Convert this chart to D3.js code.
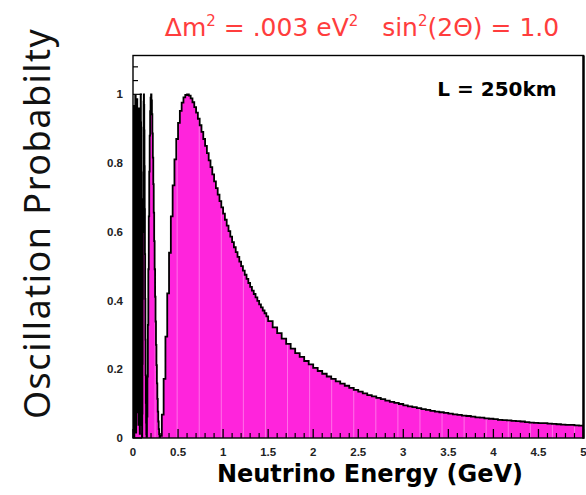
<!DOCTYPE html>
<html>
<head>
<meta charset="utf-8">
<script src="https://cdn.jsdelivr.net/npm/d3@7"></script>
<style>
  html, body { margin: 0; padding: 0; background: #fff; }
  svg { display: block; }
</style>
</head>
<body>
<svg id="chart" width="586" height="495"></svg>
<script>
// Oscillation probability vs neutrino energy, stored as a histogram in four binning zones.
const vlowStart = 0, vlowWidth = 0.0025;
const vlowProb = [
  0.068, 0.821, 0.870, 0.966, 0.135, 0.001, 0.887, 0.153, 0.437, 0.556,
  0.996, 0.997, 0.722, 0.016, 0.773, 0.334, 0.743, 0.075, 0.986, 0.354,
  0.094, 0.851, 0.856, 0.199, 0.038, 0.521, 0.959, 0.901, 0.481, 0.096,
  0.012, 0.232, 0.588, 0.884, 1.000, 0.918, 0.695, 0.424, 0.185, 0.038,
  0.002, 0.071, 0.216, 0.405, 0.599, 0.773, 0.903, 0.979, 1.000, 0.969,
  0.895, 0.791, 0.666, 0.535, 0.405, 0.286, 0.183, 0.102, 0.045, 0.011
];
const lowStart = 0.15, lowWidth = 0.005;
const lowProb = [
  0.003, 0.062, 0.179, 0.329, 0.491, 0.645, 0.775, 0.880, 0.951, 0.990,
  1.000, 0.982, 0.942, 0.886, 0.816, 0.739, 0.656, 0.573, 0.491, 0.411,
  0.339, 0.271, 0.212, 0.159, 0.114, 0.077, 0.048, 0.026, 0.011, 0.003
];
const midStart = 0.3, midWidth = 0.02;
const midProb = [
  0.006, 0.068, 0.172, 0.295, 0.421, 0.539, 0.645, 0.735, 0.811, 0.870,
  0.917, 0.952, 0.976, 0.991, 0.998, 1.000, 0.996, 0.988, 0.977, 0.963,
  0.947, 0.929, 0.910, 0.891, 0.870, 0.850, 0.829, 0.808, 0.788, 0.767,
  0.747, 0.727, 0.708, 0.689, 0.671, 0.653, 0.635, 0.618, 0.602, 0.586,
  0.570, 0.555, 0.541, 0.527, 0.513, 0.500, 0.487, 0.475, 0.463, 0.451,
  0.440, 0.429, 0.419, 0.409, 0.399, 0.389, 0.380, 0.371, 0.363, 0.354
];
const highStart = 1.5, highWidth = 0.05;
const highProb = [
  0.340, 0.322, 0.305, 0.289, 0.274, 0.260, 0.247, 0.236, 0.224, 0.214,
  0.204, 0.195, 0.187, 0.179, 0.172, 0.165, 0.158, 0.152, 0.146, 0.140,
  0.135, 0.130, 0.125, 0.121, 0.117, 0.113, 0.109, 0.105, 0.102, 0.099,
  0.095, 0.092, 0.090, 0.087, 0.084, 0.082, 0.079, 0.077, 0.075, 0.073,
  0.071, 0.069, 0.067, 0.065, 0.064, 0.062, 0.060, 0.059, 0.057, 0.056,
  0.055, 0.053, 0.052, 0.051, 0.050, 0.049, 0.048, 0.046, 0.045, 0.044,
  0.043, 0.043, 0.042, 0.041, 0.040, 0.039, 0.038, 0.038, 0.037, 0.036
];

const xTickValues = [0, 0.5, 1, 1.5, 2, 2.5, 3, 3.5, 4, 4.5, 5];
const xTickLabels = ["0", "0.5", "1", "1.5", "2", "2.5", "3", "3.5", "4", "4.5", "5"];
const yTickValues = [0, 0.2, 0.4, 0.6, 0.8, 1];
const yTickLabels = ["0", "0.2", "0.4", "0.6", "0.8", "1"];

const titleParts = [
  { t: "\u0394m", sup: false }, { t: "2", sup: true }, { t: " = .003 eV", sup: false },
  { t: "2", sup: true }, { t: "\u00a0\u00a0\u00a0sin", sup: false }, { t: "2", sup: true },
  { t: "(2\u0398) = 1.0", sup: false }
];
const xTitle = "Neutrino Energy (GeV)";
const yTitle = "Oscillation Probabilty";
const baselineNote = "L = 250km";

// Assemble bins from each zone
const bins = [];
function addZone(start, width, probs) {
  probs.forEach((p, i) => bins.push({ x0: start + i * width, x1: start + (i + 1) * width, p }));
}
addZone(vlowStart, vlowWidth, vlowProb);
addZone(lowStart, lowWidth, lowProb);
addZone(midStart, midWidth, midProb);
addZone(highStart, highWidth, highProb);

const frameL = 133, frameR = 583.5, frameT = 55.5, frameB = 438;
const x = d3.scaleLinear().domain([0, 5]).range([frameL, frameR]);
const y = d3.scaleLinear().domain([0, 1.113]).range([frameB, frameT]);

const svg = d3.select("#chart");
const magenta = "#ff24dc";

const defs = svg.append("defs");
defs.append("clipPath").attr("id", "plotClip")
  .append("rect").attr("x", frameL).attr("y", frameT).attr("width", frameR - frameL).attr("height", frameB - frameT);

// Step points of the histogram
const stepPts = [[0, 0]];
bins.forEach(b => stepPts.push([b.x0, b.p]));
stepPts.push([bins[bins.length - 1].x1, bins[bins.length - 1].p]);
stepPts.push([bins[bins.length - 1].x1, 0]);

const area = d3.area().curve(d3.curveStepAfter)
  .x(d => x(d[0])).y0(y(0)).y1(d => y(d[1]));
const line = d3.line().curve(d3.curveStepAfter)
  .x(d => x(d[0])).y(d => y(d[1]));

const plot = svg.append("g").attr("clip-path", "url(#plotClip)");

// Fill clip for faint bin-boundary stripes
defs.append("clipPath").attr("id", "fillClip")
  .append("path").attr("d", area(stepPts));

plot.append("path").attr("d", area(stepPts)).attr("fill", magenta).attr("stroke", "none");

const stripes = d3.range(0.245, 5, 0.245);
plot.append("g").attr("clip-path", "url(#fillClip)")
  .selectAll("line").data(stripes).join("line")
  .attr("x1", d => x(d)).attr("x2", d => x(d))
  .attr("y1", y(0)).attr("y2", frameT)
  .attr("stroke", "#ffffff").attr("stroke-opacity", 0.35).attr("stroke-width", 1);

plot.append("path").attr("d", line(stepPts))
  .attr("fill", "none").attr("stroke", "#000").attr("stroke-width", 1.8)
  .attr("stroke-linejoin", "miter");

// Frame
svg.append("rect").attr("x", frameL).attr("y", frameT).attr("width", frameR - frameL).attr("height", frameB - frameT)
  .attr("fill", "none").attr("stroke", "#000").attr("stroke-width", 1.4);
svg.append("line").attr("x1", frameR).attr("x2", frameR).attr("y1", frameT).attr("y2", frameB + 0.7)
  .attr("stroke", "#000").attr("stroke-width", 2.4);

// X ticks: major every 0.5, minor every 0.1, drawn inward
const xMinor = d3.range(0, 5.0001, 0.1).filter(v => Math.abs(v * 2 - Math.round(v * 2)) > 1e-6);
svg.append("g").selectAll("line").data(xMinor).join("line")
  .attr("x1", d => x(d)).attr("x2", d => x(d))
  .attr("y1", frameB).attr("y2", frameB - 5)
  .attr("stroke", "#000").attr("stroke-width", 1.2);
svg.append("g").selectAll("line").data(xTickValues).join("line")
  .attr("x1", d => x(d)).attr("x2", d => x(d))
  .attr("y1", frameB).attr("y2", frameB - 9)
  .attr("stroke", "#000").attr("stroke-width", 1.3);
svg.append("g").selectAll("text").data(xTickValues).join("text")
  .attr("x", d => x(d)).attr("y", 456)
  .attr("text-anchor", "middle")
  .attr("font-family", "Liberation Sans, Arial, sans-serif")
  .attr("font-weight", "bold").attr("font-size", 11.5).attr("fill", "#222")
  .text((d, i) => xTickLabels[i]);

// Y ticks
const yMinor = [1.04, 1.08];
svg.append("g").selectAll("line").data(yMinor).join("line")
  .attr("x1", frameL).attr("x2", frameL + 5)
  .attr("y1", d => y(d)).attr("y2", d => y(d))
  .attr("stroke", "#000").attr("stroke-width", 1.2);
svg.append("g").selectAll("line").data(yTickValues).join("line")
  .attr("x1", frameL).attr("x2", frameL + 9)
  .attr("y1", d => y(d)).attr("y2", d => y(d))
  .attr("stroke", "#000").attr("stroke-width", 1.2);
svg.append("g").selectAll("text").data(yTickValues).join("text")
  .attr("x", 123).attr("y", d => y(d) + 4)
  .attr("text-anchor", "end")
  .attr("font-family", "Liberation Sans, Arial, sans-serif")
  .attr("font-weight", "bold").attr("font-size", 11.5).attr("fill", "#222")
  .text((d, i) => yTickLabels[i]);

// Title
const title = svg.append("text").attr("x", 362).attr("y", 36)
  .attr("text-anchor", "middle")
  .attr("font-family", "'DejaVu Sans', sans-serif")
  .attr("font-size", 25).attr("fill", "#ff3d3d");
titleParts.forEach((part, i) => {
  const ts = title.append("tspan").text(part.t);
  if (part.sup) ts.attr("font-size", 15).attr("dy", -10);
  else if (i > 0) ts.attr("dy", 10);
});

// Axis titles
svg.append("text").attr("x", 370).attr("y", 482)
  .attr("text-anchor", "middle")
  .attr("font-family", "'DejaVu Sans', sans-serif")
  .attr("font-weight", "bold").attr("font-size", 24).attr("fill", "#000")
  .text(xTitle);

svg.append("text")
  .attr("transform", "translate(50,224) rotate(-90)")
  .attr("text-anchor", "middle")
  .attr("font-family", "'Noto Sans', 'DejaVu Sans', sans-serif")
  .attr("font-weight", 400)
  .attr("font-size", 36)
  .attr("textLength", 390).attr("lengthAdjust", "spacing")
  .attr("fill", "#111")
  .text(yTitle);

svg.append("text").attr("x", 497).attr("y", 96)
  .attr("text-anchor", "middle")
  .attr("font-family", "'DejaVu Sans', sans-serif")
  .attr("font-weight", "bold").attr("font-size", 20).attr("fill", "#000")
  .text(baselineNote);
</script>
</body>
</html>
